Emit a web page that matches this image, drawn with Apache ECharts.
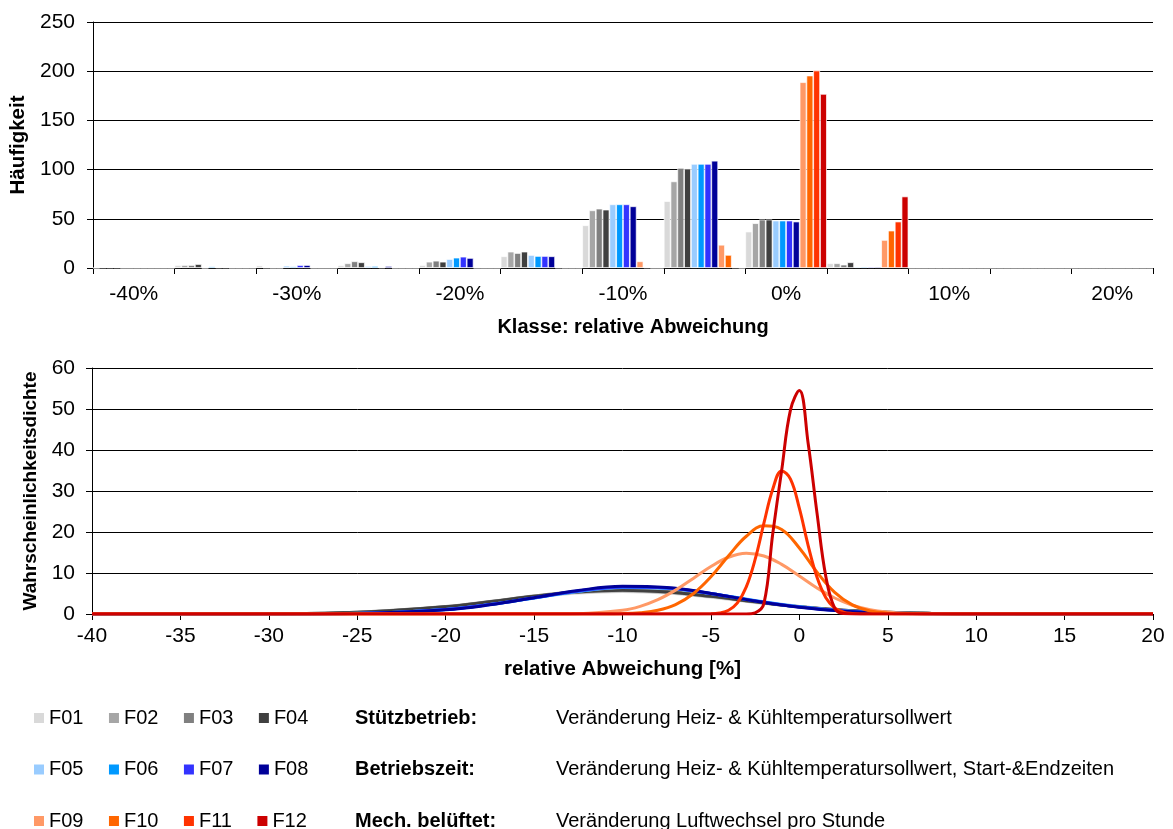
<!DOCTYPE html>
<html>
<head>
<meta charset="utf-8">
<script src="https://cdn.jsdelivr.net/npm/echarts@6/dist/echarts.min.js"></script>
<style>
html,body{margin:0;padding:0;background:#fff;}
#chart{width:1173px;height:829px;}
</style>
</head>
<body>
<div id="chart"></div>
<script>
// ---------- DATA ----------
const seriesNames = ['F01','F02','F03','F04','F05','F06','F07','F08','F09','F10','F11','F12'];
const seriesColors = ['#D9D9D9','#A6A6A6','#808080','#404040','#99CCFF','#0099FF','#3333FF','#000099','#FF9966','#FF6600','#FF3300','#CC0000'];

// Top chart: classes (relative deviation) and frequencies
const classes = ['-40%','-35%','-30%','-25%','-20%','-15%','-10%','-5%','0%','5%','10%','15%','20%'];
const barF01 = [0, 3, 2.5, 2.7, 3, 11.9, 43.4, 68, 37, 4.8, 0, 0, 0];
const barF02 = [0.5, 3, 0.3, 4.8, 6.4, 16.6, 58.6, 88, 45.5, 4.8, 0, 0, 0];
const barF03 = [0.5, 3, 0, 6.8, 7.4, 15.2, 60.3, 101.7, 49.2, 3.4, 0, 0, 0];
const barF04 = [0.5, 4, 0, 5.8, 6.4, 16.6, 59.3, 101, 49.2, 5.8, 0, 0, 0];
const barF05 = [0, 0, 2.3, 2, 9.1, 13.2, 64.7, 105.8, 48.2, 1.3, 0, 0, 0];
const barF06 = [0, 1.5, 1.5, 2, 10.5, 12.2, 64.7, 105.8, 48.2, 1.3, 0, 0, 0];
const barF07 = [0, 0.5, 3, 0.5, 11.5, 12.2, 64.7, 105.8, 48.2, 1.3, 0, 0, 0];
const barF08 = [0, 0.5, 3, 2, 10.2, 11.9, 62.7, 109, 47.2, 1.3, 0, 0, 0];
const barF09 = [0, 0, 0, 0, 0, 0.3, 6.8, 23.6, 188.8, 28.5, 0, 0, 0];
const barF10 = [0, 0, 0, 0, 0, 0, 0.5, 13.3, 195.6, 38, 0, 0, 0];
const barF11 = [0, 0, 0, 0, 0, 0, 0, 0.5, 200.7, 47.2, 0, 0, 0];
const barF12 = [0, 0, 0, 0, 0, 0, 0, 0, 176.9, 72.7, 0, 0, 0];
const barData = [barF01,barF02,barF03,barF04,barF05,barF06,barF07,barF08,barF09,barF10,barF11,barF12];

// Bottom chart: probability density curves (x in %, y density)
const broadX = [-40,-35,-30,-25,-20,-17.5,-15,-12.5,-10,-7.5,-5,-2.5,0,2.5,5,7.5,10,15,20];
const densF01 = [0,0,0.05,0.38,1.69,2.83,4.09,5.11,5.5,5.11,4.09,2.83,1.69,0.86,0.38,0.14,0.05,0,0];
const densF02 = [0,0,0.05,0.39,1.75,2.93,4.24,5.3,5.7,5.3,4.24,2.93,1.75,0.89,0.39,0.15,0.05,0,0];
const densF03 = [0,0,0.05,0.41,1.81,3.03,4.38,5.48,5.9,5.48,4.38,3.03,1.81,0.93,0.41,0.15,0.05,0,0];
const densF04 = [0,0,0.05,0.4,1.78,2.98,4.31,5.39,5.8,5.39,4.31,2.98,1.78,0.91,0.4,0.15,0.05,0,0];
const densF05 = [0,0,0.02,0.16,1.12,2.3,3.9,5.5,6.45,6.25,5.0,3.3,1.8,0.78,0.28,0.08,0.02,0,0];
const densF06 = [0,0,0.02,0.15,1.1,2.3,3.9,5.55,6.5,6.3,5.0,3.25,1.75,0.75,0.27,0.08,0.02,0,0];
const densF07 = [0,0,0.02,0.15,1.1,2.3,3.95,5.6,6.6,6.35,5.0,3.2,1.7,0.72,0.25,0.07,0.02,0,0];
const densF08 = [0,0,0.01,0.12,1.03,2.24,3.97,5.74,6.75,6.45,5.01,3.17,1.63,0.68,0.23,0.06,0.01,0,0];
const xF09 = [-40,-20,-15,-12.5,-10,-9,-8,-7,-6,-5,-4,-3,-2,-1,0,1,2,3,4,5,6,7.5,10,20];
const densF09 = [0,0,0,0.09,0.9,1.87,3.49,5.82,8.68,11.58,13.84,14.8,14.15,12.1,9.28,6.36,3.9,2.14,1.05,0.46,0.18,0.04,0,0];
const xF10 = [-40,-20,-12,-10,-9,-8,-7,-6,-5,-4,-3,-2,-1,0,1,2,3,4,5,6,8,12,20];
const densF10 = [0,0,0,0.09,0.31,0.9,2.28,4.94,9.07,14.2,18.96,21.5,20.6,16.1,10.2,5.27,2.22,0.75,0.21,0.05,0,0,0];
const xF11 = [-40,-20,-8,-5,-4.5,-4,-3.5,-3,-2.5,-2,-1.5,-1,-0.5,0,0.5,1,1.5,2,2.5,3,3.5,5,10,20];
const densF11 = [0,0,0,0.06,0.26,0.93,2.71,6.6,13.3,22.2,30.5,34.9,32.9,25.8,16.7,8.94,3.96,1.46,0.44,0.11,0.02,0,0,0];
const xF12 = [-40,-20,-8,-5,-3,-2.5,-2,-1.5,-1,-0.5,0,0.5,1,1.5,2,2.5,3,5,10,20];
const densF12 = [0,0,0,0,0,0.3,2.6,19.7,35,49.8,54.5,41.6,24.6,9.1,1.4,0.1,0,0,0,0];
const densX = [broadX,broadX,broadX,broadX,broadX,broadX,broadX,broadX,xF09,xF10,xF11,xF12];
const densY = [densF01,densF02,densF03,densF04,densF05,densF06,densF07,densF08,densF09,densF10,densF11,densF12];

const topYTicks = {min:0, max:250, interval:50};
const botYTicks = {min:0, max:60, interval:10};
const botXTicks = {min:-40, max:20, interval:5};

// Legend description rows
const descLabels = ['Stützbetrieb:', 'Betriebszeit:', 'Mech. belüftet:'];
const descTexts = ['Veränderung Heiz- & Kühltemperatursollwert',
                   'Veränderung Heiz- & Kühltemperatursollwert, Start-&Endzeiten',
                   'Veränderung Luftwechsel pro Stunde'];

// ---------- CHART ----------
const FONT = '"Liberation Sans", Arial, sans-serif';
const chart = echarts.init(document.getElementById('chart'), null, {renderer:'canvas'});

const series = [];
seriesNames.forEach((n,i) => {
  series.push({
    name:n, type:'bar', xAxisIndex:0, yAxisIndex:0,
    data: barData[i],
    barGap:'0%', barCategoryGap:'0%',
    itemStyle:{color:seriesColors[i], borderColor:'#fff', borderWidth:0.7},
    emphasis:{disabled:true}
  });
});
seriesNames.forEach((n,i) => {
  series.push({
    name:n, type:'line', xAxisIndex:1, yAxisIndex:1,
    data: densX[i].map((x,j) => [x, densY[i][j]]),
    smooth:0.4, showSymbol:false, symbol:'none',
    lineStyle:{color:seriesColors[i], width:3},
    itemStyle:{color:seriesColors[i]},
    emphasis:{disabled:true}
  });
});

const ROW_Y = [718, 769.5, 821];
const legendRows = [0,1,2].map(r => ({
  show:true, left:34, top:ROW_Y[r] - 10, orient:'horizontal', padding:0,
  icon:'rect', itemWidth:10, itemHeight:10, itemGap:25.5,
  itemStyle:{borderWidth:0},
  selectedMode:false,
  data: seriesNames.slice(r*4, r*4+4),
  textStyle:{fontSize:20, color:'#000', fontFamily:FONT}
}));

const graphics = [];
descLabels.forEach((t,r) => {
  graphics.push({type:'text', x:355, y:ROW_Y[r],
    style:{text:t, fill:'#000', font:'bold 20px ' + FONT, verticalAlign:'middle', align:'left'}});
  graphics.push({type:'text', x:556, y:ROW_Y[r],
    style:{text:descTexts[r], fill:'#000', font:'20px ' + FONT, verticalAlign:'middle', align:'left'}});
});

const axisLineStyle = {color:'#000', width:1};
const option = {
  animation:false,
  textStyle:{fontFamily:FONT},
  legend: legendRows,
  graphic: graphics,
  grid:[
    {left:93, right:20, top:22, height:246, containLabel:false},
    {left:92, right:20, top:368, height:246, containLabel:false}
  ],
  xAxis:[
    {type:'category', gridIndex:0, data:classes,
     axisLine:{show:true, lineStyle:axisLineStyle},
     axisTick:{show:true, interval:0, length:6, alignWithLabel:false, lineStyle:axisLineStyle},
     axisLabel:{interval:1, fontSize:21, color:'#000', margin:16},
     name:'Klasse: relative Abweichung', nameLocation:'middle', nameGap:49,
     nameTextStyle:{fontSize:20, fontWeight:'bold', color:'#000', padding:[0,0,0,20]}},
    {type:'value', gridIndex:1, min:botXTicks.min, max:botXTicks.max, interval:botXTicks.interval,
     axisLine:{show:true, onZero:false, lineStyle:axisLineStyle},
     axisTick:{show:true, length:6, lineStyle:axisLineStyle},
     splitLine:{show:false},
     axisLabel:{fontSize:21, color:'#000', margin:12},
     name:'relative Abweichung [%]', nameLocation:'middle', nameGap:45,
     nameTextStyle:{fontSize:20.5, fontWeight:'bold', color:'#000'}}
  ],
  yAxis:[
    {type:'value', gridIndex:0, min:topYTicks.min, max:topYTicks.max, interval:topYTicks.interval,
     axisLine:{show:true, onZero:false, lineStyle:axisLineStyle},
     axisTick:{show:true, length:6, lineStyle:axisLineStyle},
     splitLine:{show:true, lineStyle:{color:'#000', width:1}},
     axisLabel:{fontSize:21, color:'#000', margin:18},
     name:'Häufigkeit', nameLocation:'middle', nameGap:61, nameRotate:90,
     nameTextStyle:{fontSize:20.5, fontWeight:'bold', color:'#000'}},
    {type:'value', gridIndex:1, min:botYTicks.min, max:botYTicks.max, interval:botYTicks.interval,
     axisLine:{show:true, onZero:false, lineStyle:axisLineStyle},
     axisTick:{show:true, length:6, lineStyle:axisLineStyle},
     splitLine:{show:true, lineStyle:{color:'#000', width:1}},
     axisLabel:{fontSize:21, color:'#000', margin:17},
     name:'Wahrscheinlichkeitsdichte', nameLocation:'middle', nameGap:52, nameRotate:90,
     nameTextStyle:{fontSize:19, fontWeight:'bold', color:'#000'}}
  ],
  series: series
};
chart.setOption(option);
</script>
</body>
</html>
